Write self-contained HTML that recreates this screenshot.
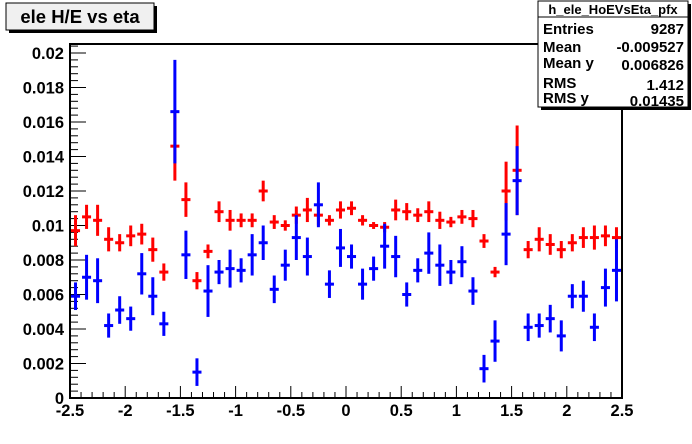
<!DOCTYPE html>
<html><head><meta charset="utf-8"><style>
body{margin:0;background:#fff;}
svg{display:block;font-family:"Liberation Sans",Arial,sans-serif;font-weight:bold;}
</style></head><body>
<svg width="692" height="444" viewBox="0 0 692 444">
<rect x="0" y="0" width="692" height="444" fill="#fff"/>
<g>
<rect x="9" y="6" width="148" height="27" fill="#000"/>
<rect x="6" y="3" width="148" height="27" fill="#f0f0f0" stroke="#000" stroke-width="1"/>
<text x="80" y="23" font-size="18.5" text-anchor="middle">ele H/E vs eta</text>
</g>
<rect x="70" y="44" width="552" height="354" fill="none" stroke="#000" stroke-width="2"/>
<g id="axes"></g>
<g id="marks"></g>
<g>
<rect x="541" y="4" width="150" height="106" fill="#000"/>
<rect x="538" y="1" width="150" height="106" fill="#fff" stroke="#000"/>
<line x1="538" y1="17" x2="688" y2="17" stroke="#000"/>
<text x="613" y="14" font-size="13" text-anchor="middle">h_ele_HoEVsEta_pfx</text>
<text x="543" y="34" font-size="15">Entries</text><text x="684" y="34" font-size="15" text-anchor="end">9287</text>
<text x="543" y="52" font-size="15">Mean</text><text x="684" y="52" font-size="15" text-anchor="end">-0.009527</text>
<text x="543" y="68" font-size="15">Mean y</text><text x="684" y="70" font-size="15" text-anchor="end">0.006826</text>
<text x="543" y="88" font-size="15">RMS</text><text x="684" y="90" font-size="15" text-anchor="end">1.412</text>
<text x="543" y="103" font-size="15">RMS y</text><text x="684" y="106" font-size="15" text-anchor="end">0.01435</text>
</g>
</svg>
<script>
const etaCenters=[-2.45,-2.35,-2.25,-2.15,-2.05,-1.95,-1.85,-1.75,-1.65,-1.55,-1.45,-1.35,-1.25,-1.15,-1.05,-0.95,-0.85,-0.75,-0.65,-0.55,-0.45,-0.35,-0.25,-0.15,-0.05,0.05,0.15,0.25,0.35,0.45,0.55,0.65,0.75,0.85,0.95,1.05,1.15,1.25,1.35,1.45,1.55,1.65,1.75,1.85,1.95,2.05,2.15,2.25,2.35,2.45];
const redValues=[0.0097,0.0105,0.0103,0.0092,0.0090,0.0094,0.0095,0.0086,0.0073,0.0146,0.0115,0.0068,0.0085,0.0108,0.0103,0.0103,0.0103,0.0120,0.0102,0.0100,0.0106,0.0109,0.0106,0.0103,0.0109,0.0110,0.0103,0.0100,0.0099,0.0109,0.0108,0.0106,0.0108,0.0103,0.0102,0.0105,0.0104,0.0091,0.0073,0.0120,0.0132,0.0086,0.0092,0.0089,0.0086,0.0090,0.0093,0.0093,0.0094,0.0093];
const redErrors=[0.0009,0.0007,0.0009,0.0007,0.0005,0.0006,0.0006,0.0007,0.0005,0.0020,0.0010,0.0005,0.0004,0.0006,0.0006,0.0004,0.0004,0.0006,0.0004,0.0003,0.0005,0.0007,0.0006,0.0003,0.0005,0.0004,0.0003,0.0002,0.0003,0.0006,0.0005,0.0004,0.0006,0.0005,0.0003,0.0004,0.0005,0.0004,0.0003,0.0017,0.0026,0.0005,0.0007,0.0006,0.0005,0.0005,0.0006,0.0007,0.0006,0.0006];
const blueValues=[0.0059,0.0070,0.0068,0.0042,0.0051,0.0046,0.0072,0.0059,0.0043,0.0166,0.0083,0.0015,0.0062,0.0073,0.0075,0.0074,0.0083,0.0090,0.0063,0.0077,0.0093,0.0082,0.0112,0.0066,0.0087,0.0082,0.0066,0.0075,0.0088,0.0082,0.0060,0.0074,0.0084,0.0077,0.0073,0.0079,0.0062,0.0017,0.0033,0.0095,0.0126,0.0041,0.0042,0.0046,0.0036,0.0059,0.0059,0.0041,0.0064,0.0074];
const blueErrors=[0.0008,0.0013,0.0013,0.0007,0.0008,0.0007,0.0012,0.0011,0.0007,0.0030,0.0014,0.0008,0.0015,0.0007,0.0011,0.0007,0.0012,0.0010,0.0008,0.0009,0.0013,0.0011,0.0013,0.0008,0.0011,0.0007,0.0009,0.0007,0.0013,0.0012,0.0007,0.0007,0.0012,0.0012,0.0007,0.0009,0.0008,0.0008,0.0012,0.0018,0.0020,0.0008,0.0007,0.0008,0.0009,0.0007,0.0009,0.0008,0.0011,0.0018];
const binWidth=0.1;
const xTicks=[-2.5,-2,-1.5,-1,-0.5,0,0.5,1,1.5,2,2.5];
const xTickLabels=["-2.5","-2","-1.5","-1","-0.5","0","0.5","1","1.5","2","2.5"];
const yTicks=[0,0.002,0.004,0.006,0.008,0.01,0.012,0.014,0.016,0.018,0.02];
const yTickLabels=["0","0.002","0.004","0.006","0.008","0.01","0.012","0.014","0.016","0.018","0.02"];

const NS="http://www.w3.org/2000/svg";
const X0=70,X1=622,Y0=398,Y1=53;
function xs(v){return X0+(v+2.5)/5*(X1-X0);}
function ys(v){return Y0-v/0.02*(Y0-Y1);}
function mk(tag,attrs,parent){const e=document.createElementNS(NS,tag);for(const k in attrs)e.setAttribute(k,attrs[k]);parent.appendChild(e);return e;}
const axes=document.getElementById('axes'),marks=document.getElementById('marks');
for(let v=-2.5;v<=2.5001;v+=0.1){
  const major=Math.abs(v*2-Math.round(v*2))<1e-6;
  const t=mk('line',{x1:xs(v),x2:xs(v),y1:Y0,y2:Y0-(major?12:6),stroke:'#000'},axes);
  
  
}
xTicks.forEach((v,i)=>{
  const t=mk('text',{x:xs(v),y:416,'font-size':16.5,'text-anchor':'middle'},axes);
  t.textContent=xTickLabels[i];
  
  
});
for(let k=0;k<=100;k++){
  const v=k*0.0004;if(v>0.0205)break;
  const major=k%5===0;
  const t=mk('line',{x1:X0,x2:X0+(major?16:8),y1:ys(v),y2:ys(v),stroke:'#000'},axes);
  
  
}
yTicks.forEach((v,i)=>{
  const t=mk('text',{x:64,y:ys(v)+6,'font-size':16.5,'text-anchor':'end'},axes);
  t.textContent=yTickLabels[i];
  
  
});
function series(vals,errs,color,name){
  const g=mk('g',{},marks);
  
  
  vals.forEach((v,i)=>{
    const c=etaCenters[i];
    const p=mk('g',{},g);
    
    
    mk('line',{x1:xs(c-binWidth/2)+1,x2:xs(c+binWidth/2)-1,y1:ys(v),y2:ys(v),stroke:color,'stroke-width':3},p);
    mk('line',{x1:xs(c),x2:xs(c),y1:ys(v-errs[i]),y2:ys(v+errs[i]),stroke:color,'stroke-width':3},p);
  });
}
series(redValues,redErrors,'#ff0000','red-series');
series(blueValues,blueErrors,'#0000ff','blue-series');
</script>
</body></html>
